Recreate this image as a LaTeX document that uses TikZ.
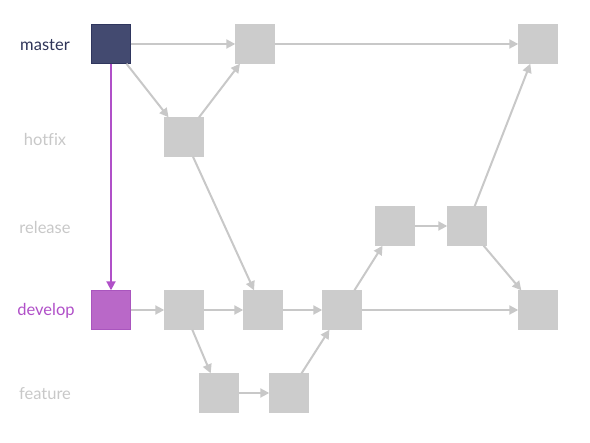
\documentclass[tikz,border=0pt]{standalone}
\usepackage{fontspec}
\setmainfont{Lato}[Ligatures=NoCommon]
\usetikzlibrary{arrows.meta}
\definecolor{navy}{HTML}{434A70}
\definecolor{navyedge}{HTML}{2F365E}
\definecolor{navytext}{HTML}{2E3458}
\definecolor{purp}{HTML}{B968C8}
\definecolor{purpedge}{HTML}{A955BE}
\definecolor{purpline}{HTML}{B050C8}
\definecolor{gfill}{HTML}{CCCCCC}
\definecolor{gline}{HTML}{C8C8C8}
\tikzset{
  commit/.style={draw=gfill, fill=gfill, line width=0.6pt, minimum size=39.4pt, inner sep=0pt, outer sep=0pt},
  mastercommit/.style={commit, draw=navyedge, fill=navy},
  devcommit/.style={commit, draw=purpedge, fill=purp},
  lbl/.style={font=\fontsize{16.5}{18}\selectfont, text=gline},
  conn/.style={draw=gline, line width=2pt, -{Triangle[length=9pt,width=9pt]}},
  pconn/.style={draw=purpline, line width=2pt, -{Triangle[length=9pt,width=9pt]}},
}
\begin{document}
\begin{tikzpicture}[x=1pt,y=-1pt]
\useasboundingbox (0,0) rectangle (590,443);
% labels
\node[lbl, text=navytext] (lmaster) at (45,45) {master};
\node[lbl] (lhotfix) at (45,139) {hotfix};
\node[lbl] (lrelease) at (45,227) {release};
\node[lbl, text=purpline] (ldevelop) at (46,311) {develop};
\node[lbl] (lfeature) at (45,394) {feature};
% commits
\node[mastercommit] (m1) at (111,44) {};
\node[commit] (m2) at (255,44) {};
\node[commit] (m3) at (538,44) {};
\node[commit] (h1) at (184,137) {};
\node[commit] (r1) at (395,226) {};
\node[commit] (r2) at (467,226) {};
\node[devcommit] (d1) at (111,310) {};
\node[commit] (d2) at (184,310) {};
\node[commit] (d3) at (263,310) {};
\node[commit] (d4) at (342,310) {};
\node[commit] (d5) at (538,310) {};
\node[commit] (f1) at (219,393) {};
\node[commit] (f2) at (289,393) {};
% connectors
\draw[conn] (m1) -- (m2);
\draw[conn] (m2) -- (m3);
\draw[conn] (m1) -- (h1);
\draw[conn] (h1) -- (m2);
\draw[conn] (h1) -- (d3);
\draw[conn] (d1) -- (d2);
\draw[conn] (d2) -- (d3);
\draw[conn] (d3) -- (d4);
\draw[conn] (d4) -- (d5);
\draw[conn] (d2) -- (f1);
\draw[conn] (f1) -- (f2);
\draw[conn] (f2) -- (d4);
\draw[conn] (d4) -- (r1);
\draw[conn] (r1) -- (r2);
\draw[conn] (r2) -- (m3);
\draw[conn] (r2) -- (d5);
\draw[pconn] (m1) -- (d1);
\end{tikzpicture}
\end{document}
